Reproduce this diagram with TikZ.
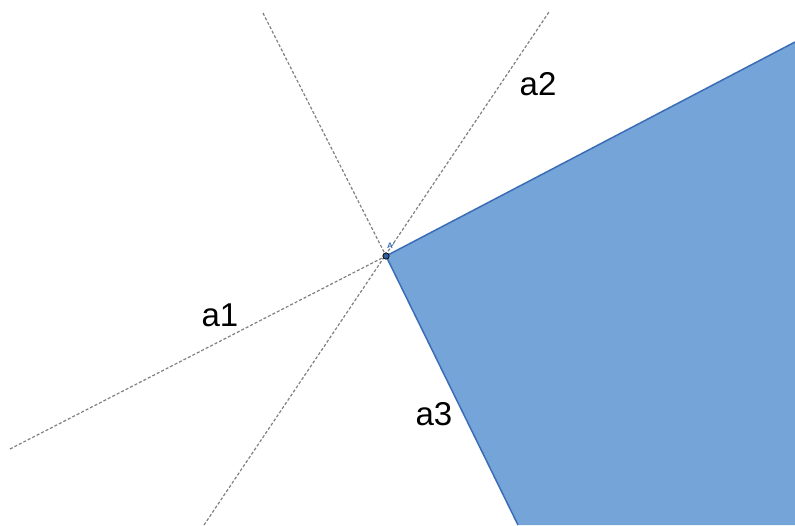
\documentclass[tikz,border=0pt]{standalone}
\usepackage{fontspec}
\setmainfont{Liberation Sans}
\definecolor{polyfill}{HTML}{75A4D8}
\definecolor{polyedge}{HTML}{3A6DB5}
\definecolor{dashgray}{HTML}{808080}
\begin{document}
\begin{tikzpicture}[x=1pt,y=-1pt,
  guide/.style={draw=dashgray,line width=1.2pt,dash pattern=on 3pt off 2pt},
  lbl/.style={font=\fontsize{33}{33}\selectfont,inner sep=0pt}]
\useasboundingbox (0,0) rectangle (795,525);
\coordinate (A) at (386,256);
\coordinate (P1) at (795,42);
\coordinate (P2) at (518,525);
\coordinate (Q) at (795,525);
\coordinate (a1s) at (10,449);
\coordinate (a2s) at (204,525);
\coordinate (a2e) at (549,12);
\coordinate (a3s) at (263,13);
\draw[guide] (a1s) -- (A);
\draw[guide] (a2s) -- (a2e);
\draw[guide] (a3s) -- (A);
\fill[polyfill] (A) -- (P1) -- (Q) -- (P2) -- cycle;
\draw[polyedge,line width=1.5pt] (P1) -- (A) -- (P2);
\node[lbl] (l1) at (220,315) {a1};
\node[lbl] (l2) at (538,84) {a2};
\node[lbl] (l3) at (434,414) {a3};
\node[text=polyedge,font=\bfseries\fontsize{8}{8}\selectfont,inner sep=0pt] (lA) at (391,246) {A'};
\filldraw[fill=polyedge!85!black,draw=black,line width=0.7pt] (A) circle (3.2);
\end{tikzpicture}
\end{document}
